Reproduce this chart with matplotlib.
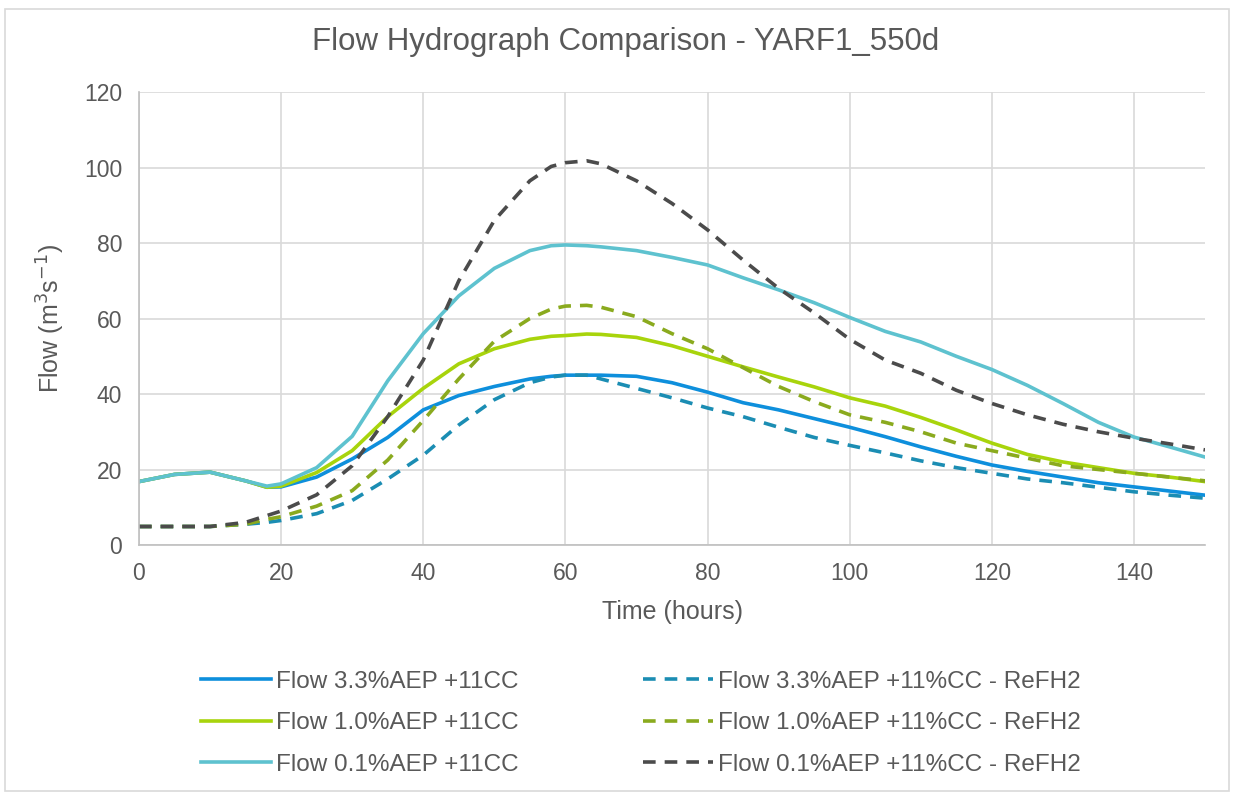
import matplotlib
matplotlib.use("Agg")
import matplotlib.pyplot as plt
from matplotlib.patches import Rectangle

plt.rcParams['font.family'] = ['Liberation Sans', 'DejaVu Sans']

t = [0, 5, 10, 15, 18, 20, 25, 30, 35, 40, 45, 50, 55, 58, 60, 63, 65, 70, 75, 80, 85, 90,
     95, 100, 105, 110, 115, 120, 125, 130, 135, 140, 145, 150]

flow_33 = [16.8, 18.7, 19.3, 17, 15.3, 15.4, 18, 22.8, 28.5, 35.8, 39.6, 42, 44, 44.7, 45, 45, 45,
           44.7, 43, 40.5, 37.7, 35.8, 33.5, 31.2, 28.7, 26, 23.5, 21.2, 19.5, 18, 16.5, 15.4, 14.3, 13.2]
flow_10 = [16.8, 18.7, 19.3, 17, 15.3, 15.6, 19.2, 25, 34, 41.5, 48, 52, 54.5, 55.3, 55.5, 55.9, 55.8,
           55, 52.8, 50, 47.2, 44.5, 41.9, 39, 36.8, 33.8, 30.5, 27, 24, 22, 20.5, 19, 18, 16.8]
flow_01 = [16.8, 18.7, 19.3, 17, 15.6, 16.2, 20.5, 28.8, 43.5, 56, 66, 73.3, 78, 79.3, 79.5, 79.3, 79,
           78, 76.2, 74.2, 70.8, 67.6, 64.2, 60.3, 56.6, 53.8, 50, 46.5, 42.3, 37.5, 32.5, 28.6, 26, 23.3]
refh_33 = [4.9, 4.9, 4.9, 5.5, 6, 6.5, 8.3, 11.8, 17.5, 23.8, 31.8, 38.5, 43, 44.5, 45, 45, 44,
           41.5, 39, 36.3, 34, 31.2, 28.5, 26.4, 24.4, 22.3, 20.5, 19, 17.5, 16.5, 15.3, 14.1, 13.2, 12.4]
refh_10 = [4.9, 4.9, 4.9, 5.5, 6.8, 7.5, 10.3, 14.4, 22.5, 33, 44, 54, 60, 62.5, 63.3, 63.5, 63,
           60.5, 56, 52, 47, 42, 38, 34.5, 32.5, 30, 27, 25, 23, 21, 20, 19, 18, 17]
refh_01 = [4.9, 4.9, 4.9, 6, 7.8, 9, 13.3, 21, 34, 49, 70, 86, 96.5, 100.3, 101.3, 101.8, 101,
           96.5, 90.5, 83.5, 75.5, 68, 61.5, 54.5, 49, 45.5, 41, 37.5, 34.5, 32, 30, 28.3, 26.8, 25.2]

labels = ["Flow 3.3%AEP +11CC", "Flow 3.3%AEP +11%CC - ReFH2",
          "Flow 1.0%AEP +11CC", "Flow 1.0%AEP +11%CC - ReFH2",
          "Flow 0.1%AEP +11CC", "Flow 0.1%AEP +11%CC - ReFH2"]

x_ticks = [0, 20, 40, 60, 80, 100, 120, 140]
y_ticks = [0, 20, 40, 60, 80, 100, 120]

text_col = "#595959"
fig = plt.figure(figsize=(12.52, 7.94), dpi=100)
fig.patches.append(Rectangle((0.004, 0.004), 0.978, 0.985, transform=fig.transFigure,
                             fill=False, edgecolor="#d9d9d9", linewidth=1.2))
ax = fig.add_axes([0.111, 0.3136, 0.8515, 0.5704])

lw = 2.6
ds = (3.5, 2.5)
h1, = ax.plot(t, flow_33, color="#0e8fdc", lw=lw, label=labels[0])
h3, = ax.plot(t, flow_10, color="#a8d40c", lw=lw, label=labels[2])
h5, = ax.plot(t, flow_01, color="#5ec2cf", lw=lw, label=labels[4])
h2, = ax.plot(t, refh_33, color="#1b8db3", lw=lw, ls=(0, ds), label=labels[1])
h4, = ax.plot(t, refh_10, color="#8aaa1e", lw=lw, ls=(0, ds), label=labels[3])
h6, = ax.plot(t, refh_01, color="#4b4b4b", lw=lw, ls=(0, ds), label=labels[5])

ax.set_xlim(0, 150)
ax.set_ylim(0, 120)
ax.set_xticks(x_ticks)
ax.set_yticks(y_ticks)
ax.grid(True, color="#d9d9d9", linewidth=1.2)
ax.set_axisbelow(True)
for s in ["top", "right"]:
    ax.spines[s].set_visible(False)
for s in ["left", "bottom"]:
    ax.spines[s].set_color("#bfbfbf")
    ax.spines[s].set_linewidth(1.2)
ax.tick_params(length=0, labelsize=16.5, colors=text_col, pad=12)

fig.text(0.5, 0.947, "Flow Hydrograph Comparison - YARF1_550d", fontsize=22.5,
         color=text_col, ha="center", va="center")
ax.set_xlabel("Time (hours)", fontsize=18, color=text_col, labelpad=11)
ax.set_ylabel("Flow (m$^3$s$^{-1}$)", fontsize=18, color=text_col, labelpad=12)

leg = fig.legend([h1, h3, h5, h2, h4, h6],
                 [labels[0], labels[2], labels[4], labels[1], labels[3], labels[5]],
                 ncol=2, loc="center", bbox_to_anchor=(0.512, 0.089), frameon=False,
                 fontsize=17.5, handlelength=2.9, handletextpad=0.2, columnspacing=5.1,
                 labelspacing=0.8, labelcolor=text_col)

fig.savefig("out.png", dpi=100)
